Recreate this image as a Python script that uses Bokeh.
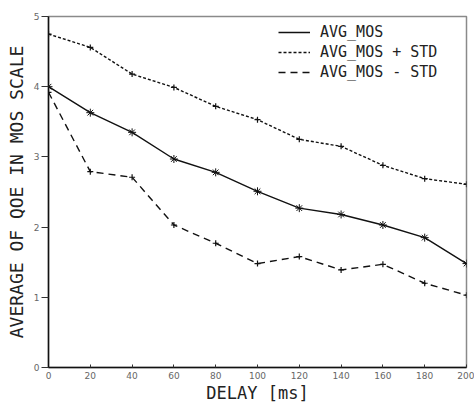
from bokeh.plotting import figure
from bokeh.models import Range1d, FixedTicker, Legend, LegendItem
from bokeh.embed import file_html
from bokeh.resources import INLINE

delay_ms = [0, 20, 40, 60, 80, 100, 120, 140, 160, 180, 200]
avg_mos = [4.00, 3.63, 3.35, 2.97, 2.78, 2.51, 2.27, 2.18, 2.03, 1.85, 1.48]
avg_plus_std = [4.75, 4.56, 4.18, 3.99, 3.72, 3.53, 3.25, 3.15, 2.88, 2.69, 2.61]
avg_minus_std = [3.92, 2.79, 2.71, 2.03, 1.77, 1.48, 1.58, 1.39, 1.47, 1.20, 1.03]

x_ticks = [0, 20, 40, 60, 80, 100, 120, 140, 160, 180, 200]
y_ticks = [0, 1, 2, 3, 4, 5]
series_names = ["AVG_MOS", "AVG_MOS + STD", "AVG_MOS - STD"]

TITLE_FONT = "DejaVu Sans Mono"

p = figure(width=474, height=405, output_backend="svg", toolbar_location=None,
           x_range=Range1d(0, 200), y_range=Range1d(0, 5),
           min_border_left=48, min_border_right=8, min_border_top=16, min_border_bottom=35)
p.background_fill_color = "white"
p.border_fill_color = "white"
p.outline_line_color = "#8a8a8a"
p.outline_line_width = 1.5
p.xgrid.visible = False
p.ygrid.visible = False

# axes
p.xaxis.ticker = FixedTicker(ticks=x_ticks)
p.yaxis.ticker = FixedTicker(ticks=y_ticks)
for ax in (p.xaxis, p.yaxis):
    ax.axis_line_color = "#111111"
    ax.axis_line_width = 1.5
    ax.major_tick_line_color = "#333333"
    ax.major_tick_line_width = 1
    ax.minor_tick_line_color = None
    ax.major_label_text_font = "DejaVu Sans"
    ax.major_label_text_font_size = "9px"
    ax.major_label_text_color = "#666666"
    ax.axis_label_text_font = TITLE_FONT
    ax.axis_label_text_font_style = "normal"
    ax.axis_label_text_color = "#222222"
p.xaxis.major_tick_in = 3
p.xaxis.major_tick_out = 0
p.xaxis.major_label_standoff = 4
p.yaxis.major_tick_in = 0
p.yaxis.major_tick_out = 7
p.yaxis.major_label_standoff = 2

p.yaxis.axis_label = "AVERAGE OF QOE IN MOS SCALE"
p.yaxis.axis_label_text_font_size = "18px"
p.yaxis.axis_label_standoff = 4

p.xaxis.axis_label = "DELAY [ms]"
p.xaxis.axis_label_text_font_size = "17px"
p.xaxis.axis_label_standoff = 1

# series
r1 = p.line(delay_ms, avg_mos, line_color="#111111", line_width=1.4)
p.scatter(delay_ms, avg_mos, marker="asterisk", size=8, line_color="#111111", line_width=1)
r2 = p.line(delay_ms, avg_plus_std, line_color="#111111", line_width=1.4, line_dash="3 2")
p.scatter(delay_ms, avg_plus_std, marker="cross", size=6, line_color="#111111", line_width=1.2)
r3 = p.line(delay_ms, avg_minus_std, line_color="#111111", line_width=1.4, line_dash="7 5")
p.scatter(delay_ms, avg_minus_std, marker="cross", size=6, line_color="#111111", line_width=1.2)

legend = Legend(items=[LegendItem(label=series_names[0], renderers=[r1]),
                       LegendItem(label=series_names[1], renderers=[r2]),
                       LegendItem(label=series_names[2], renderers=[r3])],
                location=(230, 285))
legend.border_line_color = None
legend.background_fill_alpha = 0
legend.padding = 5
legend.margin = 0
legend.spacing = 0
legend.glyph_width = 32
legend.glyph_height = 20
legend.label_height = 20
legend.label_standoff = 10
legend.label_text_font = TITLE_FONT
legend.label_text_font_size = "15px"
legend.label_text_color = "#222222"
p.add_layout(legend)

open("out.html", "w").write(file_html(p, INLINE))
